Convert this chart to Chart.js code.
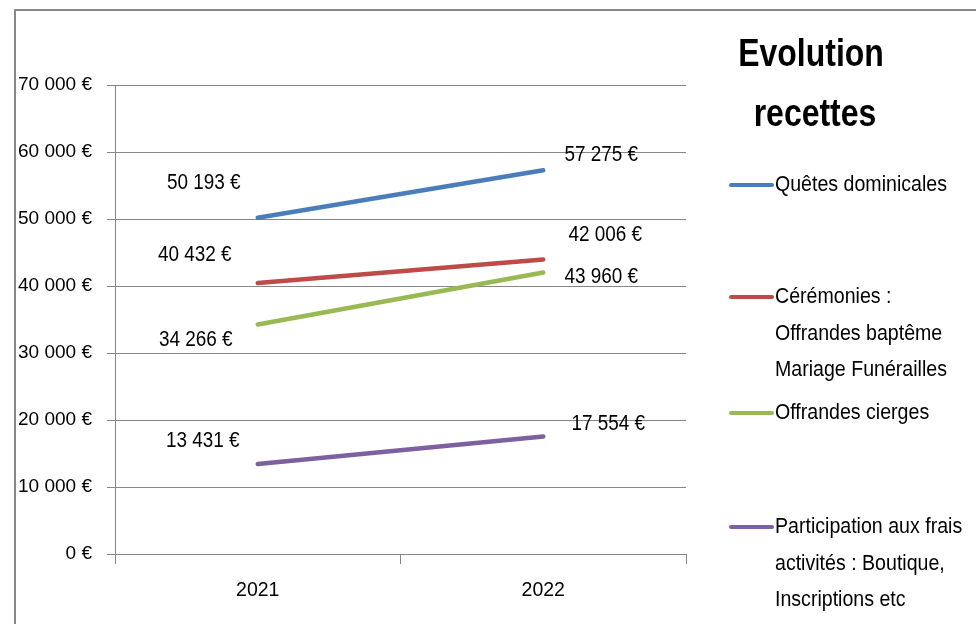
<!DOCTYPE html>
<html>
<head>
<meta charset="utf-8">
<script src="https://cdn.jsdelivr.net/npm/chart.js@4"></script>
<style>
  html, body { margin: 0; padding: 0; background: #fff; }
  canvas { display: block; }
</style>
</head>
<body>
<canvas id="chart" width="976" height="624"></canvas>
<script>
const years = ['2021', '2022'];
const quetes = [50193, 57275];
const ceremonies = [40432, 43960];
const cierges = [34266, 42006];
const participation = [13431, 17554];

const seriesNames = [
    ['Quêtes dominicales'],
    ['Cérémonies :', 'Offrandes baptême', 'Mariage Funérailles'],
    ['Offrandes cierges'],
    ['Participation aux frais', 'activités : Boutique,', 'Inscriptions etc']
];
const colors = ['#4A7EBB', '#BE4B48', '#98B954', '#7D60A0'];
const titleLines = ['Evolution', 'recettes'];

// where excel put the value labels, relative to the point
const labelOffsets = [
    [[-54, -35], [58, -15]],
    [[-63, -28], [58, 17]],
    [[-62, 16], [62, -38]],
    [[-55, -23], [65, -12]]
];
const legendY = [185, 297, 413, 527];

const FONT = '"Liberation Sans", Arial, sans-serif';
const euro = v => v.toLocaleString('fr-FR').replace(/\s/g, ' ') + ' €';

// calibri-ish look: draw text a bit squeezed horizontally
function narrowText(ctx, txt, x, y, sx) {
    ctx.save();
    ctx.translate(x, y);
    ctx.scale(sx, 1);
    ctx.fillText(txt, 0, 0);
    ctx.restore();
}

const frame = {
    id: 'frame',
    beforeDraw(chart) {
        const ctx = chart.ctx;
        ctx.save();
        ctx.fillStyle = '#fff';
        ctx.fillRect(0, 0, chart.width, chart.height);
        ctx.strokeStyle = '#898989';
        ctx.lineWidth = 2;
        ctx.strokeRect(15, 10, 1200, 1200);
        ctx.restore();
    }
};

const valueLabels = {
    id: 'valueLabels',
    afterDatasetsDraw(chart) {
        const ctx = chart.ctx;
        ctx.save();
        ctx.font = '22px ' + FONT;
        ctx.fillStyle = '#000';
        ctx.textAlign = 'center';
        ctx.textBaseline = 'middle';
        chart.data.datasets.forEach((ds, i) => {
            chart.getDatasetMeta(i).data.forEach((pt, j) => {
                const [dx, dy] = labelOffsets[i][j];
                narrowText(ctx, euro(ds.data[j]), pt.x + dx, pt.y + dy, 0.86);
            });
        });
        ctx.restore();
    }
};

const sideLegend = {
    id: 'sideLegend',
    afterDraw(chart) {
        const ctx = chart.ctx;
        ctx.save();
        ctx.fillStyle = '#000';
        ctx.textAlign = 'center';
        ctx.textBaseline = 'alphabetic';
        ctx.font = 'bold 39px ' + FONT;
        narrowText(ctx, titleLines[0], 811, 66, 0.82);
        narrowText(ctx, titleLines[1], 815, 126, 0.82);

        ctx.font = '22px ' + FONT;
        ctx.textAlign = 'left';
        ctx.textBaseline = 'middle';
        chart.data.datasets.forEach((ds, i) => {
            const y = legendY[i];
            ctx.strokeStyle = ds.borderColor;
            ctx.lineWidth = 4;
            ctx.lineCap = 'round';
            ctx.beginPath();
            ctx.moveTo(731, y);
            ctx.lineTo(772, y);
            ctx.stroke();
            seriesNames[i].forEach((line, k) => {
                narrowText(ctx, line, 775, y + k * 36.5, 0.89);
            });
        });
        ctx.restore();
    }
};

const mkSet = (i, data) => ({
    label: seriesNames[i].join(' '),
    data,
    borderColor: colors[i],
    backgroundColor: colors[i],
    borderWidth: 4.5,
    borderCapStyle: 'round',
    pointRadius: 0,
    tension: 0,
    fill: false
});

new Chart(document.getElementById('chart'), {
    type: 'line',
    data: {
        labels: years,
        datasets: [mkSet(0, quetes), mkSet(1, ceremonies), mkSet(2, cierges), mkSet(3, participation)]
    },
    options: {
        responsive: false,
        animation: false,
        devicePixelRatio: 1,
        layout: { padding: { top: 85, right: 290, left: 0, bottom: 0 } },
        scales: {
            x: {
                offset: true,
                afterFit: a => { a.height = 70; },
                grid: { offset: true, drawOnChartArea: false, color: '#868686', tickLength: 10 },
                border: { color: '#868686' },
                ticks: { color: '#000', padding: 15, font: { family: FONT, size: 19.5 } }
            },
            y: {
                min: 0,
                max: 70000,
                afterFit: a => { a.width = 115; },
                grid: { color: '#868686', tickLength: 8 },
                border: { color: '#868686' },
                ticks: {
                    stepSize: 10000,
                    color: '#000',
                    padding: 15,
                    font: { family: FONT, size: 19 },
                    callback: v => euro(v)
                }
            }
        },
        plugins: {
            legend: { display: false },
            tooltip: { enabled: false }
        }
    },
    plugins: [frame, valueLabels, sideLegend]
});
</script>
</body>
</html>
